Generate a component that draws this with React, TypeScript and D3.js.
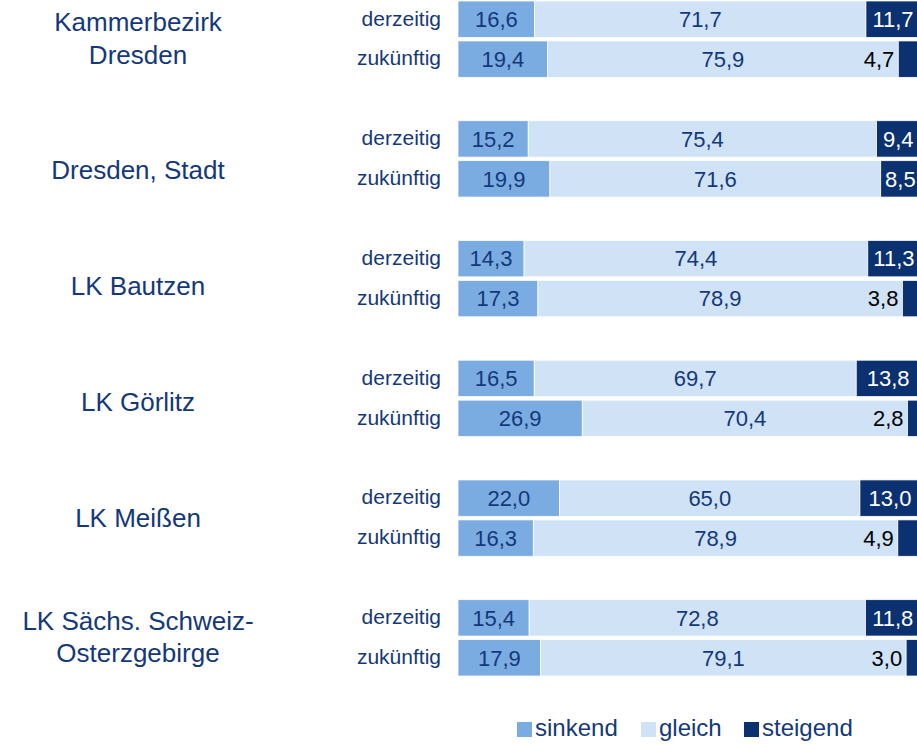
import * as d3 from "d3";

const regions = [
  ["Kammerbezirk", "Dresden"],
  ["Dresden, Stadt"],
  ["LK Bautzen"],
  ["LK Görlitz"],
  ["LK Meißen"],
  ["LK Sächs. Schweiz-", "Osterzgebirge"],
];
const periods = ["derzeitig", "zukünftig"];
const seriesNames = ["sinkend", "gleich", "steigend"];

// [region][period] -> values per series
const sinkend = [
  [16.6, 19.4],
  [15.2, 19.9],
  [14.3, 17.3],
  [16.5, 26.9],
  [22.0, 16.3],
  [15.4, 17.9],
];
const gleich = [
  [71.7, 75.9],
  [75.4, 71.6],
  [74.4, 78.9],
  [69.7, 70.4],
  [65.0, 78.9],
  [72.8, 79.1],
];
const steigend = [
  [11.7, 4.7],
  [9.4, 8.5],
  [11.3, 3.8],
  [13.8, 2.8],
  [13.0, 4.9],
  [11.8, 3.0],
];

const colors = ["#7aace2", "#cfe2f6", "#0b3170"];
const textBlue = "#14387a";
const font = "Liberation Sans, Arial, sans-serif";

const W = 917;
const H = 745;

const fmt = (v: number) => v.toFixed(1).replace(".", ",");

export default function App() {
  const x = d3.scaleLinear().domain([0, 100]).range([458, 920]);
  const gy = d3
    .scaleBand<number>()
    .domain(d3.range(regions.length))
    .range([1, 676])
    .paddingInner(0.3626)
    .paddingOuter(0);
  const py = d3
    .scaleBand<string>()
    .domain(periods)
    .range([0, gy.bandwidth()])
    .paddingInner(0.09);
  // single-line region labels sit on a slightly tighter grid than the bars
  const labelY = d3.scaleLinear().domain([159, 518]).range([170, 518]);

  const allSeries = [sinkend, gleich, steigend];

  return (
    <svg
      width={W}
      height={H}
      viewBox={`0 0 ${W} ${H}`}
      style={{ position: "absolute", left: 0, top: 0, background: "#fff" }}
      fontFamily={font}
    >
      {regions.map((lines, gi) => {
        const g0 = gy(gi) ?? 0;
        const c = g0 + gy.bandwidth() / 2;
        const cy = lines.length === 1 ? labelY(c) : c - 1;
        return (
          <g key={gi}>
            <text x={138} y={cy} textAnchor="middle" fontSize={26} fill={textBlue}>
              {lines.map((l, li) => (
                <tspan
                  key={li}
                  x={138}
                  dy={li === 0 ? `${0.35 - (lines.length - 1) * 0.63}em` : "1.26em"}
                >
                  {l}
                </tspan>
              ))}
            </text>
            {periods.map((p, pi) => {
              const y0 = g0 + (py(p) ?? 0);
              const h = py.bandwidth();
              const vals = allSeries.map((s) => s[gi][pi]);
              const starts = vals.map((_, i) => d3.sum(vals.slice(0, i)));
              return (
                <g key={p}>
                  <text
                    x={441}
                    y={y0 + h / 2 - 1}
                    dy="0.35em"
                    textAnchor="end"
                    fontSize={21}
                    fill={textBlue}
                  >
                    {p}
                  </text>
                  {vals.map((v, si) => (
                    <rect
                      key={si}
                      x={x(starts[si])}
                      y={y0}
                      width={x(starts[si] + v) - x(starts[si])}
                      height={h}
                      fill={colors[si]}
                      stroke="#fff"
                      strokeWidth={0.75}
                    />
                  ))}
                  {vals.map((v, si) => {
                    const xa = x(starts[si]);
                    const xb = x(starts[si] + v);
                    const inside = si < 2 || v >= 6;
                    return (
                      <text
                        key={"t" + si}
                        x={inside ? (xa + xb) / 2 : xa - 4}
                        y={y0 + h / 2}
                        dy="0.35em"
                        textAnchor={inside ? "middle" : "end"}
                        fontSize={22}
                        fill={si === 2 ? (inside ? "#fff" : "#000") : textBlue}
                      >
                        {fmt(v)}
                      </text>
                    );
                  })}
                </g>
              );
            })}
          </g>
        );
      })}
      <g transform="translate(517,722)">
        {seriesNames.map((n, i) => {
          const lx = [0, 124, 227][i];
          return (
            <g key={n} transform={`translate(${lx},0)`}>
              <rect width={15} height={15} fill={colors[i]} />
              <text x={18} y={14} fontSize={24} fill={textBlue}>
                {n}
              </text>
            </g>
          );
        })}
      </g>
    </svg>
  );
}
